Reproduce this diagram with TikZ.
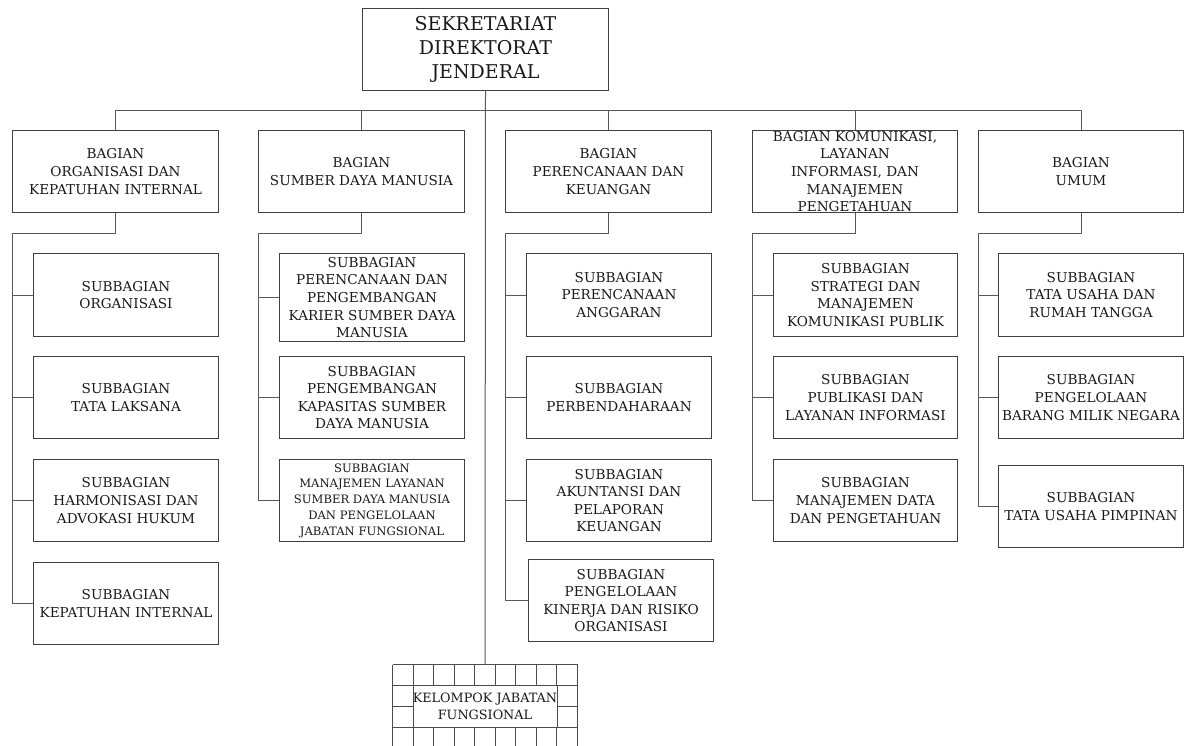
\documentclass[tikz,border=0pt]{standalone}
\usepackage{fontspec}
\setmainfont{DejaVu Serif}
\begin{document}
\begin{tikzpicture}[x=1pt,y=-1pt,
  every node/.style={text=black!90},
  box/.style={draw=black!75, line width=1pt, rectangle, inner sep=0pt, align=center,
    font=\fontsize{13.6}{17.6}\selectfont},
  bagbox/.style={box, minimum width=206pt, minimum height=82pt},
  subbox/.style={box, minimum width=185pt, minimum height=82pt},
  smalltxt/.style={font=\fontsize{11.6}{15.7}\selectfont},
  txt/.style={align=center, inner sep=0pt, font=\fontsize{13.6}{17.6}\selectfont},
  conn/.style={draw=black!65, line width=1pt},
  gridline/.style={draw=black!70, line width=1pt}]
\useasboundingbox (-0.5,-0.5) rectangle (1188.5,745.5);
\clip (-0.5,-0.5) rectangle (1188.5,745.5);

% top unit
\node[box, minimum width=246pt, minimum height=82pt,
  font=\fontsize{19}{24.3}\selectfont] (top) at (485,49)
  {SEKRETARIAT\\DIREKTORAT\\JENDERAL};

% bagian row
\node[bagbox] (b1) at (115,171) {BAGIAN\\ORGANISASI DAN\\KEPATUHAN INTERNAL};
\node[bagbox] (b2) at (361,171) {BAGIAN\\SUMBER DAYA MANUSIA};
\node[bagbox] (b3) at (608,171) {BAGIAN\\PERENCANAAN DAN\\KEUANGAN};
\node[bagbox, minimum width=205pt] (b4) at (854.5,171) {};
\node[txt] at (b4.center) {BAGIAN KOMUNIKASI,\\LAYANAN\\INFORMASI, DAN\\MANAJEMEN\\PENGETAHUAN};
\node[bagbox, minimum width=205pt] (b5) at (1080.5,171) {BAGIAN\\UMUM};

% subbagian, column 1
\node[subbox] (s11) at (125.5,294.5) {SUBBAGIAN\\ORGANISASI};
\node[subbox] (s12) at (125.5,397) {SUBBAGIAN\\TATA LAKSANA};
\node[subbox] (s13) at (125.5,500) {SUBBAGIAN\\HARMONISASI DAN\\ADVOKASI HUKUM};
\node[subbox] (s14) at (125.5,603) {SUBBAGIAN\\KEPATUHAN INTERNAL};

% subbagian, column 2
\node[subbox, minimum height=88pt] (s21) at (371.5,297)
  {SUBBAGIAN\\PERENCANAAN DAN\\PENGEMBANGAN\\KARIER SUMBER DAYA\\MANUSIA};
\node[subbox] (s22) at (371.5,397) {SUBBAGIAN\\PENGEMBANGAN\\KAPASITAS SUMBER\\DAYA MANUSIA};
\node[subbox, smalltxt] (s23) at (371.5,500)
  {SUBBAGIAN\\MANAJEMEN LAYANAN\\SUMBER DAYA MANUSIA\\DAN PENGELOLAAN\\JABATAN FUNGSIONAL};

% subbagian, column 3
\node[subbox] (s31) at (618.5,294.5) {SUBBAGIAN\\PERENCANAAN\\ANGGARAN};
\node[subbox] (s32) at (618.5,397) {SUBBAGIAN\\PERBENDAHARAAN};
\node[subbox] (s33) at (618.5,500) {SUBBAGIAN\\AKUNTANSI DAN\\PELAPORAN\\KEUANGAN};
\node[subbox] (s34) at (620.5,600) {SUBBAGIAN\\PENGELOLAAN\\KINERJA DAN RISIKO\\ORGANISASI};

% subbagian, column 4
\node[subbox, minimum width=184pt] (s41) at (865,294.5) {SUBBAGIAN\\STRATEGI DAN\\MANAJEMEN\\KOMUNIKASI PUBLIK};
\node[subbox, minimum width=184pt] (s42) at (865,397) {SUBBAGIAN\\PUBLIKASI DAN\\LAYANAN INFORMASI};
\node[subbox, minimum width=184pt] (s43) at (865,500) {SUBBAGIAN\\MANAJEMEN DATA\\DAN PENGETAHUAN};

% subbagian, column 5
\node[subbox] (s51) at (1090.5,294.5) {SUBBAGIAN\\TATA USAHA DAN\\RUMAH TANGGA};
\node[subbox] (s52) at (1090.5,397) {SUBBAGIAN\\PENGELOLAAN\\BARANG MILIK NEGARA};
\node[subbox] (s53) at (1090.5,506) {SUBBAGIAN\\TATA USAHA PIMPINAN};

% functional group block: hatched grid with a white label panel
\node[rectangle, inner sep=0pt, minimum width=185pt, minimum height=84pt] (kjf) at (484.5,706) {};
\foreach \i in {0,...,9}
  \draw[gridline] ({392+20.5*\i},664) -- ({392+20.5*\i},748);
\foreach \y in {664,685,706,727,748}
  \draw[gridline] (392,\y) -- (577,\y);
\draw[gridline, fill=white] (412.5,685) rectangle (556.5,727);
\node[txt, font=\fontsize{12.8}{16.7}\selectfont] at (kjf.center) {KELOMPOK JABATAN\\FUNGSIONAL};

% main trunk and bus
\coordinate (bus) at (485,110);
\draw[conn] (top.south) -- (kjf.north);
\draw[conn] (b1.north) -- (b1.north |- bus) -- (b5.north |- bus) -- (b5.north);
\foreach \b in {b2,b3,b4} \draw[conn] (\b.north) -- (\b.north |- bus);

% column rails
\coordinate (r1) at (12,233);
\coordinate (r2) at (258,233);
\coordinate (r3) at (505,233);
\coordinate (r4) at (752,233);
\coordinate (r5) at (978,233);
\foreach \b/\r/\last in {b1/r1/s14, b2/r2/s23, b3/r3/s34, b4/r4/s43, b5/r5/s53}
  \draw[conn] (\b.south) |- (\r) |- (\last.west);
\foreach \r/\s in {r1/s11, r1/s12, r1/s13, r2/s21, r2/s22, r3/s31, r3/s32, r3/s33,
                   r4/s41, r4/s42, r5/s51, r5/s52}
  \draw[conn] (\r |- \s.west) -- (\s.west);
\end{tikzpicture}
\end{document}
